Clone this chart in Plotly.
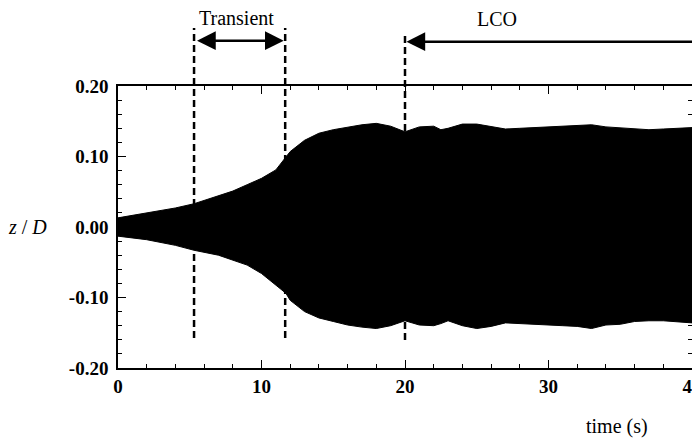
import plotly.graph_objects as go

# ---- data ----
time_s = [0, 2, 4, 5.3, 7, 8, 9, 10, 11, 11.7, 12, 13, 14, 15, 16, 17, 18, 19, 20, 21, 22,
          22.5, 23, 24, 25, 26, 27, 28, 29, 30, 31, 32, 33, 34, 35, 36, 37, 38, 39, 40]
upper = [0.013, 0.020, 0.027, 0.033, 0.045, 0.051, 0.060, 0.069, 0.081, 0.099, 0.107, 0.123,
         0.133, 0.138, 0.142, 0.145, 0.147, 0.143, 0.135, 0.142, 0.143,
         0.138, 0.140, 0.146, 0.146, 0.143, 0.139, 0.140, 0.141, 0.141, 0.142, 0.143, 0.145,
         0.142, 0.141, 0.139, 0.138, 0.139, 0.140, 0.141]
lower = [-0.013, -0.018, -0.026, -0.033, -0.040, -0.047, -0.054, -0.066, -0.082, -0.094, -0.104,
         -0.120, -0.129, -0.134, -0.139, -0.142, -0.144, -0.140, -0.133, -0.139, -0.140,
         -0.137, -0.133, -0.140, -0.144, -0.141, -0.136, -0.137, -0.139, -0.139, -0.140, -0.141,
         -0.144, -0.139, -0.138, -0.134, -0.133, -0.133, -0.134, -0.136]

phase_times = [5.3, 11.65, 20.0]          # dashed boundaries
transient_label = "Transient"
lco_label = "LCO"
lco_arrow_end = 40.6

x_ticks = [0, 10, 20, 30, 40]
y_ticks = [-0.2, -0.1, 0.0, 0.1, 0.2]
y_tick_text = ["-0.20", "-0.10", "0.00", "0.10", "0.20"]

# ---- figure ----
poly_x = time_s + time_s[::-1]
poly_y = upper + lower[::-1]

fig = go.Figure()
fig.add_trace(go.Scatter(
    x=poly_x, y=poly_y, mode="lines", fill="toself",
    fillcolor="black", line=dict(color="black", width=1),
    hoverinfo="skip", showlegend=False))

serif = "Liberation Serif, Times New Roman, serif"

shapes = []
tops = [1.2057, 1.2057, 1.191]
bottoms = [0.106, 0.106, 0.099]
for t, top, bot in zip(phase_times, tops, bottoms):
    shapes.append(dict(type="line", xref="x", yref="paper", x0=t, x1=t, y0=bot, y1=top,
                       line=dict(color="black", width=2.5, dash="7px,4px"), layer="above"))

annotations = [
    # Transient double arrow
    dict(xref="x", yref="paper", x=phase_times[1] - 0.1, y=1.1607, axref="x", ayref="pixel",
         ax=phase_times[0] + 0.1, ay=0, text="", showarrow=True, arrowhead=2, startarrowhead=2,
         arrowside="end+start", arrowwidth=2.5, arrowsize=1.5, startarrowsize=1.5,
         arrowcolor="black", standoff=0, startstandoff=0),
    # LCO arrow
    dict(xref="x", yref="paper", x=phase_times[2] + 0.1, y=1.157, axref="x", ayref="pixel",
         ax=lco_arrow_end, ay=0, text="", showarrow=True, arrowhead=2, arrowside="end",
         arrowwidth=2.5, arrowsize=1.5, arrowcolor="black", standoff=0),
    dict(xref="x", yref="paper", x=8.29, y=1.24, text=transient_label, showarrow=False,
         xanchor="center", yanchor="middle",
         font=dict(family=serif, size=20, color="black")),
    dict(xref="x", yref="paper", x=26.4, y=1.237, text=lco_label, showarrow=False,
         xanchor="center", yanchor="middle",
         font=dict(family=serif, size=20, color="black")),
    dict(xref="paper", yref="paper", x=-0.157, y=0.5, text="<i>z</i> / <i>D</i>", showarrow=False,
         xanchor="center", yanchor="middle",
         font=dict(family=serif, size=20, color="black")),
    dict(xref="paper", yref="paper", x=0.869, y=-0.209, text="time (s)", showarrow=False,
         xanchor="center", yanchor="middle",
         font=dict(family=serif, size=20, color="black")),
]

# page has an 8px body margin, so the figure is sized/offset to compensate
fig.update_layout(
    width=692, height=432,
    margin=dict(l=110, r=8, t=78, b=72, autoexpand=False),
    paper_bgcolor="white", plot_bgcolor="white",
    shapes=shapes, annotations=annotations,
    showlegend=False,
)
fig.update_xaxes(
    range=[0, 40], tickvals=x_ticks, ticktext=[str(v) for v in x_ticks],
    ticks="inside", ticklen=8, tickwidth=1.3, tickcolor="black",
    minor=dict(dtick=2, ticks="inside", ticklen=4, tickwidth=1.2, tickcolor="black"),
    showline=True, linecolor="black", linewidth=1.5, mirror="allticks",
    showgrid=False, zeroline=False, automargin=False, ticklabeloverflow="allow",
    tickfont=dict(family=serif, size=19, color="black", weight="bold"),
    ticklabelstandoff=0,
)
fig.update_yaxes(
    range=[-0.2, 0.2], tickvals=y_ticks, ticktext=y_tick_text,
    ticks="inside", ticklen=8, tickwidth=1.3, tickcolor="black",
    minor=dict(dtick=0.02, ticks="inside", ticklen=4, tickwidth=1.2, tickcolor="black"),
    showline=True, linecolor="black", linewidth=1.5, mirror="allticks",
    showgrid=False, zeroline=False, automargin=False, ticklabeloverflow="allow",
    tickfont=dict(family=serif, size=19, color="black", weight="bold"),
    ticklabelstandoff=4,
)

fig.write_html("out.html")
